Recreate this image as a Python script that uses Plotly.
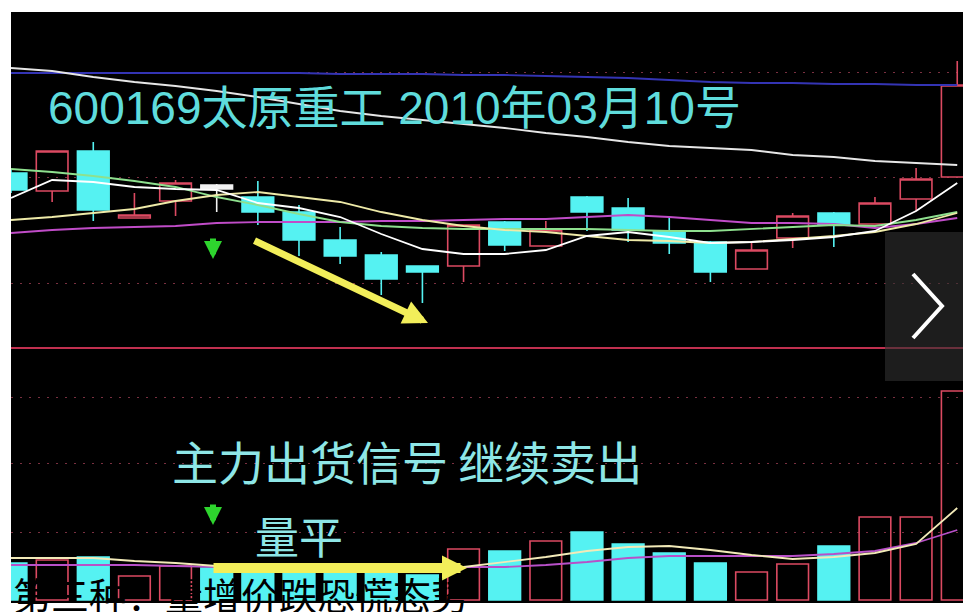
import plotly.graph_objects as go

# ---------------- data ----------------
days = list(range(24))

open_ = [10.70, 10.52, 10.92, 10.25, 10.42, 10.58, 10.46, 10.31, 10.03, 9.88, 9.77, 9.77,
         10.21, 9.97, 10.46, 10.35, 10.12, 10.01, 9.74, 10.05, 10.30, 10.19, 10.44, 10.66]
high = [10.73, 10.92, 11.01, 10.50, 10.63, 10.59, 10.62, 10.38, 10.16, 9.91, 9.77, 10.18,
        10.22, 10.22, 10.47, 10.45, 10.26, 10.02, 10.00, 10.30, 10.31, 10.46, 10.75, 11.82]
low = [10.50, 10.41, 10.22, 10.25, 10.27, 10.31, 10.18, 9.87, 9.79, 9.48, 9.40, 9.61,
       9.92, 9.97, 10.12, 10.01, 9.89, 9.61, 9.74, 9.95, 9.96, 10.19, 10.32, 10.66]
close = [10.53, 10.92, 10.33, 10.28, 10.60, 10.54, 10.31, 10.03, 9.87, 9.64, 9.71, 10.18,
         9.98, 10.13, 10.31, 10.13, 10.00, 9.71, 9.93, 10.27, 10.18, 10.40, 10.64, 11.58]
flat_days = [5]  # near-doji candles drawn white

ma5 = [10.45, 10.63, 10.61, 10.56, 10.54, 10.53, 10.40, 10.35, 10.26, 10.09, 9.94, 9.89,
       9.89, 9.93, 10.07, 10.11, 10.06, 10.00, 10.01, 10.03, 10.06, 10.12, 10.32, 10.60]
ma10 = [10.23, 10.26, 10.30, 10.34, 10.42, 10.48, 10.51, 10.46, 10.41, 10.31, 10.23, 10.17,
        10.13, 10.11, 10.07, 10.03, 10.02, 10.00, 10.01, 10.04, 10.07, 10.11, 10.19, 10.30]
ma20 = [10.74, 10.71, 10.67, 10.62, 10.56, 10.46, 10.38, 10.29, 10.21, 10.17, 10.15, 10.14,
        10.14, 10.14, 10.14, 10.13, 10.12, 10.12, 10.14, 10.16, 10.18, 10.17, 10.23, 10.31]
ma30 = [10.10, 10.13, 10.15, 10.16, 10.17, 10.20, 10.21, 10.21, 10.21, 10.22, 10.22, 10.23,
        10.24, 10.24, 10.26, 10.28, 10.26, 10.23, 10.20, 10.20, 10.19, 10.15, 10.19, 10.25]
ma60 = [11.75, 11.72, 11.66, 11.61, 11.57, 11.52, 11.46, 11.39, 11.32, 11.27, 11.23, 11.19,
        11.15, 11.10, 11.06, 11.01, 10.97, 10.95, 10.93, 10.88, 10.86, 10.82, 10.80, 10.78]
ma120 = [11.70, 11.70, 11.70, 11.70, 11.70, 11.70, 11.70, 11.70, 11.69, 11.69, 11.69, 11.68,
         11.68, 11.67, 11.66, 11.65, 11.63, 11.61, 11.60, 11.60, 11.59, 11.59, 11.58, 11.58]

volume = [5550, 6000, 6450, 3600, 5100, 4800, 5250, 5100, 4200, 4500, 3750, 7650,
          7350, 8850, 10200, 8400, 7050, 5550, 4200, 5400, 8100, 12450, 12450, 31350]
vol_ma5 = [6300, 6300, 6300, 5850, 5550, 5100, 4950, 4950, 4950, 4800, 4800, 4950,
           5700, 6450, 7350, 7950, 8100, 7500, 6750, 6150, 6450, 7050, 8400, 13800]
vol_ma10 = [5250, 5250, 5250, 5250, 5100, 4950, 4800, 4800, 4800, 4800, 4800, 4950,
            4950, 5250, 5700, 6300, 6600, 6600, 6600, 6600, 6900, 7350, 8550, 10500]

price_grid = [9.60, 10.66, 11.71]
vol_grid = [10200, 20550, 30450]

title_text = "600169太原重工 2010年03月10号"
note_text = "主力出货信号 继续卖出"
vol_note = "量平"
caption = "第三种：量增价跌恐慌态势"

# ---------------- styling ----------------
CYAN = "#55f2f2"
RED = "#dc4a62"
WHITE = "#f2f2f2"
GRID = "#7a3040"
FONT = "Noto Sans CJK SC, sans-serif"
TITLE_FONT = "Liberation Sans, Noto Sans CJK SC, sans-serif"
L, T, W, H = 11, 12, 952, 591  # plot area in pixels


def px(x):
    return (x - L) / W


def py(y):
    return (T + H - y) / H


split = py(348)

fig = go.Figure()

main = [i for i in days if i not in flat_days]
fig.add_trace(go.Candlestick(
    x=[days[i] for i in main], open=[open_[i] for i in main], high=[high[i] for i in main],
    low=[low[i] for i in main], close=[close[i] for i in main],
    increasing=dict(line=dict(color=RED, width=1.6), fillcolor="rgba(0,0,0,0)"),
    decreasing=dict(line=dict(color=CYAN, width=1.6), fillcolor=CYAN),
    whiskerwidth=0, xaxis="x", yaxis="y", showlegend=False, hoverinfo="skip"))
fig.add_trace(go.Candlestick(
    x=[days[i] for i in flat_days], open=[open_[i] for i in flat_days],
    high=[high[i] for i in flat_days], low=[low[i] for i in flat_days],
    close=[close[i] for i in flat_days],
    increasing=dict(line=dict(color=WHITE, width=1.6), fillcolor=WHITE),
    decreasing=dict(line=dict(color=WHITE, width=1.6), fillcolor=WHITE),
    whiskerwidth=0, xaxis="x", yaxis="y", showlegend=False, hoverinfo="skip"))

for series, color in [(ma120, "#3434b4"), (ma60, "#e6e6e6"), (ma30, "#c04cc8"),
                      (ma20, "#8ee08e"), (ma10, "#eeeaa8"), (ma5, "#ffffff")]:
    fig.add_trace(go.Scatter(x=days, y=series, mode="lines", line=dict(color=color, width=1.8),
                             xaxis="x", yaxis="y", showlegend=False, hoverinfo="skip"))

up = [close[i] > open_[i] for i in days]
fig.add_trace(go.Bar(
    x=days, y=volume, width=0.77,
    marker=dict(color=["rgba(0,0,0,0)" if u else CYAN for u in up],
                line=dict(color=[RED if u else CYAN for u in up], width=1.6)),
    xaxis="x2", yaxis="y2", showlegend=False, hoverinfo="skip"))
fig.add_trace(go.Scatter(x=days, y=vol_ma10, mode="lines", line=dict(color="#b850c8", width=1.8),
                         xaxis="x2", yaxis="y2", showlegend=False, hoverinfo="skip"))
fig.add_trace(go.Scatter(x=days, y=vol_ma5, mode="lines", line=dict(color="#f2eab8", width=1.8),
                         xaxis="x2", yaxis="y2", showlegend=False, hoverinfo="skip"))

axis_off = dict(visible=False, range=[0, 23.14], fixedrange=True)
grid_axis = dict(showticklabels=False, ticks="", showline=False, zeroline=False,
                 showgrid=True, gridcolor=GRID, gridwidth=1, griddash="2px,7px",
                 fixedrange=True)

fig.update_layout(
    width=963, height=612, autosize=False,
    margin=dict(l=L, r=0, t=T, b=612 - T - H, pad=0),
    paper_bgcolor="white", plot_bgcolor="black",
    boxgap=0.23, boxgroupgap=0, barmode="overlay", hovermode=False,
    xaxis=dict(axis_off, anchor="y", domain=[0, 1], rangeslider=dict(visible=False)),
    xaxis2=dict(axis_off, anchor="y2", domain=[0, 1], matches="x"),
    yaxis=dict(grid_axis, domain=[split, 1], range=[8.95, 12.31], tickvals=price_grid),
    yaxis2=dict(grid_axis, domain=[0, split], range=[-450, 37800], tickvals=vol_grid),
    shapes=[
        dict(type="line", xref="paper", yref="paper", x0=0, x1=1, y0=split, y1=split,
             line=dict(color="#c0304f", width=2), layer="above"),
        dict(type="rect", xref="paper", yref="paper", x0=px(885), x1=1, y0=py(381), y1=py(232),
             fillcolor="rgba(48,48,48,0.6)", line=dict(width=0), layer="above"),
        dict(type="path", xref="paper", yref="paper",
             path=f"M{px(913)},{py(274)} L{px(942)},{py(306)} L{px(913)},{py(338)}",
             line=dict(color="white", width=4), layer="above"),
    ],
    annotations=[
        dict(text=title_text, xref="paper", yref="paper", x=px(46), y=py(108),
             xanchor="left", yanchor="middle", showarrow=False,
             font=dict(family=TITLE_FONT, size=46, color="#5fdcdc")),
        dict(text=note_text, xref="paper", yref="paper", x=px(170), y=py(460),
             xanchor="left", yanchor="middle", showarrow=False,
             font=dict(family=FONT, size=46, color="#8ee6e6")),
        dict(text=vol_note, xref="paper", yref="paper", x=px(253), y=py(535),
             xanchor="left", yanchor="middle", showarrow=False,
             font=dict(family=FONT, size=44, color="#8ee6e6")),
        dict(text="", xref="paper", yref="paper", x=px(213), y=py(259), ax=0, ay=-22,
             showarrow=True, arrowhead=2, arrowsize=0.6, arrowwidth=6, arrowcolor="#2ed42e"),
        dict(text="", xref="paper", yref="paper", x=px(213), y=py(525), ax=0, ay=-22,
             showarrow=True, arrowhead=2, arrowsize=0.6, arrowwidth=6, arrowcolor="#2ed42e"),
        dict(text="", xref="paper", yref="paper", x=px(428), y=py(323), ax=-175, ay=-83,
             showarrow=True, arrowhead=2, arrowsize=0.7, arrowwidth=7, arrowcolor="#f2ee5a"),
        dict(text="", xref="paper", yref="paper", x=px(467), y=py(568), ax=-255, ay=0,
             showarrow=True, arrowhead=2, arrowsize=0.5, arrowwidth=10, arrowcolor="#f2ee5a"),
        dict(text=caption, xref="paper", yref="paper", x=px(11), y=py(593),
             xanchor="left", yanchor="middle", showarrow=False,
             font=dict(family=FONT, size=38, color="black")),
    ],
)

fig.write_html("out.html", config={"displayModeBar": False, "staticPlot": True},
               post_script="document.body.style.margin='0';document.body.style.overflow='hidden';")
